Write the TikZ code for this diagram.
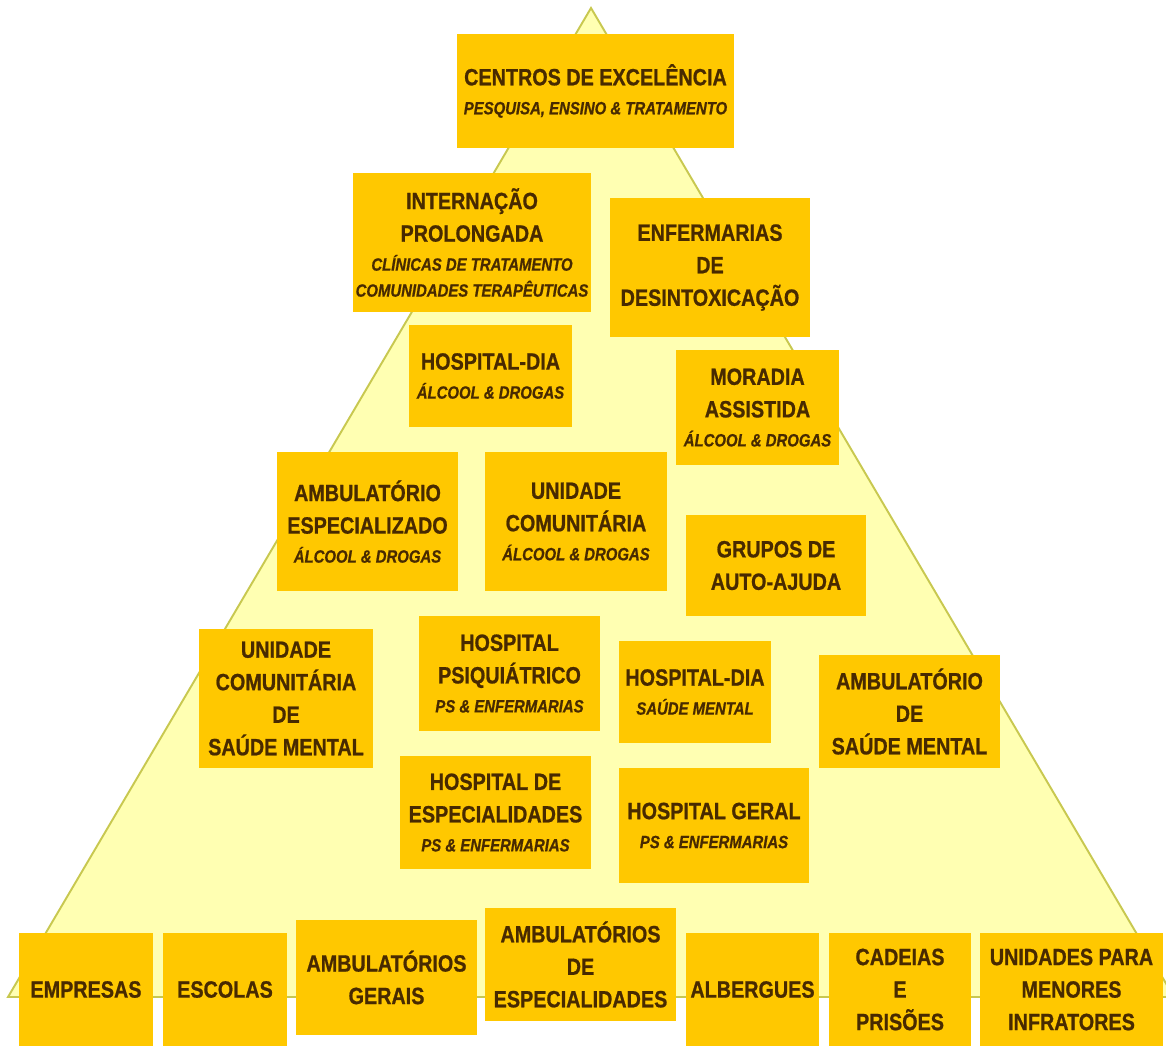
\documentclass[tikz,border=0pt]{standalone}
\usepackage{fontspec}
\setmainfont{Liberation Sans}[FakeStretch=0.84, BoldFeatures={FakeBold=0.8}, BoldItalicFeatures={FakeBold=0.8}]
\usepackage{xcolor}
\usepackage{tikz}
\definecolor{caixaamarela}{RGB}{255,200,0}
\definecolor{fundopiramide}{RGB}{255,255,178}
\definecolor{bordapiramide}{RGB}{200,200,80}
\definecolor{textomarrom}{RGB}{72,42,0}
\newcommand{\linhasub}[1]{{\fontsize{10.1}{14.8}\selectfont\itshape #1}}

\begin{document}
\begin{tikzpicture}[x=0.02cm, y=-0.02cm,
	caixa/.style={rectangle, fill=caixaamarela, text=textomarrom, align=center, inner sep=0pt,
		font=\fontsize{13.4}{18.5}\selectfont\bfseries}]
				\useasboundingbox (0,0) rectangle (1166,1046);
				% piramide
				\draw[fill=fundopiramide, draw=bordapiramide, line width=1.1pt] (591,8) -- (8,997) -- (1174,997) -- cycle;
				% topo
				\node[caixa, minimum width=5.54cm, minimum height=2.28cm] (centros) at (595.5,91){CENTROS DE EXCELÊNCIA\\[-2pt]\linhasub{PESQUISA, ENSINO \& TRATAMENTO}};
				\node[caixa, minimum width=4.76cm, minimum height=2.78cm] (internacao) at (472,242.5){INTERNAÇÃO\\PROLONGADA\\[-2pt]\linhasub{CLÍNICAS DE TRATAMENTO}\\[-3.7pt]\linhasub{COMUNIDADES TERAPÊUTICAS}};
				\node[caixa, minimum width=4.00cm, minimum height=2.78cm] (enfermarias) at (710,267.5){ENFERMARIAS\\DE\\DESINTOXICAÇÃO};
				\node[caixa, minimum width=3.26cm, minimum height=2.04cm] (hdiaad) at (490.5,376){HOSPITAL-DIA\\[-2pt]\linhasub{ÁLCOOL \& DROGAS}};
				\node[caixa, minimum width=3.26cm, minimum height=2.30cm] (moradia) at (757.5,407.5){MORADIA\\ASSISTIDA\\[-2pt]\linhasub{ÁLCOOL \& DROGAS}};
				% meio
				\node[caixa, minimum width=3.62cm, minimum height=2.78cm] (ambesp) at (367.5,521.5){AMBULATÓRIO\\ESPECIALIZADO\\[-2pt]\linhasub{ÁLCOOL \& DROGAS}};
				\node[caixa, minimum width=3.64cm, minimum height=2.78cm] (unicomad) at (576,521.5){UNIDADE\\COMUNITÁRIA\\[-2pt]\linhasub{ÁLCOOL \& DROGAS}};
				\node[caixa, minimum width=3.60cm, minimum height=2.02cm] (grupos) at (776,565.5){GRUPOS DE\\AUTO-AJUDA};
				\node[caixa, minimum width=3.48cm, minimum height=2.78cm] (unicomsm) at (286,698.5){UNIDADE\\COMUNITÁRIA\\DE\\SAÚDE MENTAL};
				\node[caixa, minimum width=3.62cm, minimum height=2.30cm] (hpsiq) at (509.5,673.5){HOSPITAL\\PSIQUIÁTRICO\\[-2pt]\linhasub{PS \& ENFERMARIAS}};
				\node[caixa, minimum width=3.04cm, minimum height=2.04cm] (hdiasm) at (695,692){HOSPITAL-DIA\\[-2pt]\linhasub{SAÚDE MENTAL}};
				\node[caixa, minimum width=3.62cm, minimum height=2.26cm] (ambsm) at (909.5,711.5){AMBULATÓRIO\\DE\\SAÚDE MENTAL};
				\node[caixa, minimum width=3.82cm, minimum height=2.26cm] (hesp) at (495.5,812.5){HOSPITAL DE\\ESPECIALIDADES\\[-2pt]\linhasub{PS \& ENFERMARIAS}};
				\node[caixa, minimum width=3.80cm, minimum height=2.30cm] (hgeral) at (714,825.5){HOSPITAL GERAL\\[-2pt]\linhasub{PS \& ENFERMARIAS}};
				% base
				\node[caixa, minimum width=2.68cm, minimum height=2.26cm] (empresas) at (86,989.5){EMPRESAS};
				\node[caixa, minimum width=2.48cm, minimum height=2.26cm] (escolas) at (225,989.5){ESCOLAS};
				\node[caixa, minimum width=3.62cm, minimum height=2.30cm] (ambger) at (386.5,977.5){AMBULATÓRIOS\\GERAIS};
				\node[caixa, minimum width=3.82cm, minimum height=2.26cm] (ambesps) at (580.5,964.5){AMBULATÓRIOS\\DE\\ESPECIALIDADES};
				\node[caixa, minimum width=2.66cm, minimum height=2.26cm] (albergues) at (752.5,989.5){ALBERGUES};
				\node[caixa, minimum width=2.84cm, minimum height=2.26cm] (cadeias) at (900,989.5){CADEIAS\\E\\PRISÕES};
				\node[caixa, minimum width=3.66cm, minimum height=2.26cm] (menores) at (1071.5,989.5){UNIDADES PARA\\MENORES\\INFRATORES};
\end{tikzpicture}
\end{document}
